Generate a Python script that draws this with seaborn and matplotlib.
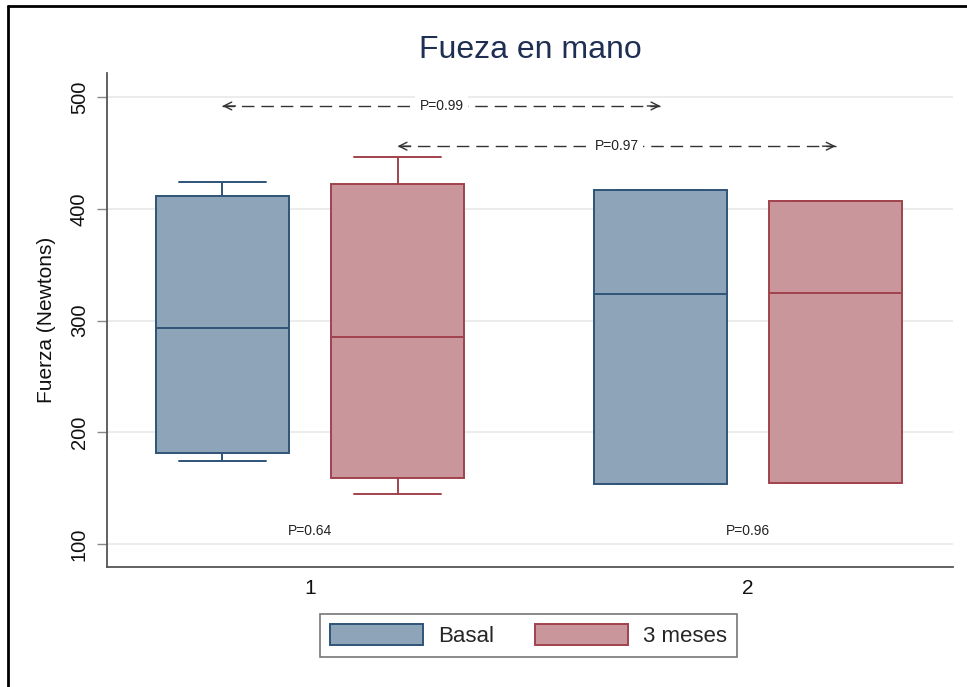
import numpy as np
import pandas as pd
import matplotlib
matplotlib.use("Agg")
import matplotlib.pyplot as plt
import seaborn as sns
from matplotlib.patches import Patch
from matplotlib.lines import Line2D

# ---------------- data ----------------
grupos = ["1", "2"]
tiempos = ["Basal", "3 meses"]
# five-number summaries per group: [whisker low, q1, median, q3, whisker high]
basal_g1 = [174, 181, 293, 411, 424]
basal_g2 = [154, 154, 324, 417, 417]
meses3_g1 = [145, 159, 285, 422, 446]
meses3_g2 = [155, 155, 325, 407, 407]

yticks = [100, 200, 300, 400, 500]
titulo = "Fueza en mano"
ylabel = "Fuerza (Newtons)"

# comparison arrows between groups (same time point)
comp_tiempo = ["Basal", "3 meses"]
comp_y = [492, 456]
comp_p = ["P=0.99", "P=0.97"]
# within-group comparisons (Basal vs 3 meses)
intra_grupo = ["1", "2"]
intra_y = [112, 112]
intra_p = ["P=0.64", "P=0.96"]

fill_cols = {"Basal": "#8da4b9", "3 meses": "#c9979b"}
edge_cols = {"Basal": "#2f5479", "3 meses": "#a1424d"}

# ---------------- long-form table ----------------
rows = []
for g, vals in zip(grupos, [basal_g1, basal_g2]):
    for v in vals:
        rows.append((g, "Basal", v))
for g, vals in zip(grupos, [meses3_g1, meses3_g2]):
    for v in vals:
        rows.append((g, "3 meses", v))
df = pd.DataFrame(rows, columns=["grupo", "tiempo", "fuerza"])

sns.set_theme(style="white")
plt.rcParams["font.family"] = ["Liberation Sans", "DejaVu Sans"]

fig = plt.figure(figsize=(9.67, 6.87), dpi=100)
ax = fig.add_axes([107 / 967, 1 - 567 / 687, (953 - 107) / 967, (567 - 73) / 687])

ax.set_axisbelow(True)
ax.yaxis.grid(True, color="#ebebeb", linewidth=1.3)
ax.xaxis.grid(False)

WIDTH, GAP = 0.8, 0.24
for t in tiempos:
    sns.boxplot(
        data=df[df["tiempo"] == t], x="grupo", y="fuerza", hue="tiempo",
        order=grupos, hue_order=tiempos, palette=fill_cols, dodge=True,
        width=WIDTH, gap=GAP, whis=(0, 100), saturation=1,
        linecolor=edge_cols[t], linewidth=1.4, showfliers=False,
        capwidths=0.2, legend=False, ax=ax,
    )

ax.set_xlim(-0.4635, 1.468)
ax.set_ylim(79.4, 521.5)
ax.set_yticks(yticks)
ax.set_yticklabels([str(v) for v in yticks], rotation=90, va="center",
                   fontsize=14.5, color="#111111")
ax.tick_params(axis="y", which="major", length=7, width=1, color="#888888",
               pad=6, left=True)
ax.tick_params(axis="x", length=0, pad=9, labelsize=15, labelcolor="#111111")
ax.set_xlabel("")
ax.set_ylabel(ylabel, fontsize=15, color="#111111", labelpad=10)

for s in ["top", "right"]:
    ax.spines[s].set_visible(False)
for s in ["left", "bottom"]:
    ax.spines[s].set_color("#555555")
    ax.spines[s].set_linewidth(1.3)

# ---------------- annotations ----------------
offset = WIDTH / 4
hue_off = {tiempos[0]: -offset, tiempos[1]: offset}
for t, yv, txt in zip(comp_tiempo, comp_y, comp_p):
    x0 = 0 + hue_off[t]
    x1 = 1 + hue_off[t]
    ax.plot([x0, x1], [yv, yv], color="#333333", lw=1.0, dashes=(9, 5), zorder=3)
    ax.annotate("", xy=(x0, yv), xytext=(x0 + 0.03, yv),
                arrowprops=dict(arrowstyle="->", color="#333333", lw=1.0,
                                mutation_scale=14, shrinkA=0, shrinkB=0))
    ax.annotate("", xy=(x1, yv), xytext=(x1 - 0.03, yv),
                arrowprops=dict(arrowstyle="->", color="#333333", lw=1.0,
                                mutation_scale=14, shrinkA=0, shrinkB=0))
    ax.text((x0 + x1) / 2, yv, txt, ha="center", va="center", fontsize=10,
            color="#222222", zorder=4,
            bbox=dict(facecolor="white", edgecolor="none", pad=3))

for g, yv, txt in zip(intra_grupo, intra_y, intra_p):
    xi = grupos.index(g)
    ax.text(xi, yv, txt, ha="center", va="center", fontsize=10, color="#222222")

# ---------------- title, legend, frame ----------------
fig.text(530 / 967, 1 - 50 / 687, titulo, ha="center", va="center",
         fontsize=23, color="#1e2f52")

handles = [Patch(facecolor=fill_cols[t], edgecolor=edge_cols[t], linewidth=1.4, label=t)
           for t in tiempos]
leg = fig.legend(handles=handles, loc="center", bbox_to_anchor=(528.5 / 967, 1 - 635.5 / 687),
                 ncol=2, fontsize=16, handlelength=4.2, handleheight=1.1,
                 handletextpad=0.7, columnspacing=1.8, borderpad=0.45,
                 frameon=True, fancybox=False, framealpha=1)
leg.get_frame().set_edgecolor("#777777")
leg.get_frame().set_linewidth(1.2)

fig.add_artist(Line2D([8 / 967, 8 / 967], [0, 1 - 6 / 687], transform=fig.transFigure,
                      color="black", lw=2))
fig.add_artist(Line2D([8 / 967, 1], [1 - 6 / 687, 1 - 6 / 687], transform=fig.transFigure,
                      color="black", lw=2))

fig.savefig("out.png", dpi=100, facecolor="white")
